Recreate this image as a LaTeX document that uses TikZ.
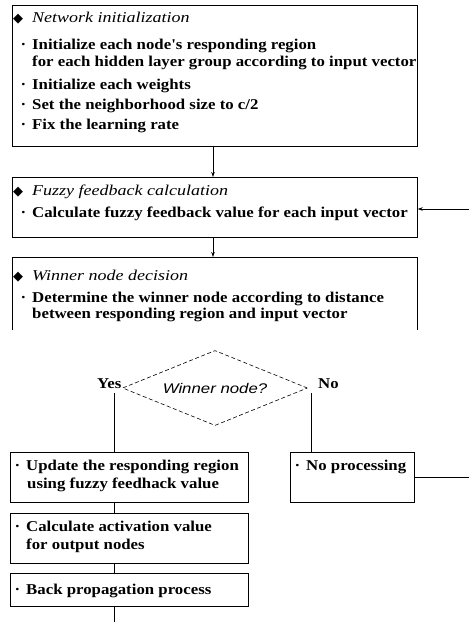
\documentclass[tikz,border=0pt]{standalone}
\usepackage{fontspec}
\setmainfont{Liberation Serif}
\newfontfamily\bodyfont[FakeStretch=1.12]{Liberation Serif Bold}
\newfontfamily\headfont[FakeStretch=1.2]{Liberation Serif Italic}
\newfontfamily\symfont{DejaVu Sans}
\newfontfamily\qfont[FakeStretch=1.2]{Liberation Sans Italic}
\usetikzlibrary{arrows.meta,shapes.geometric}

\newcommand{\dmd}{{\symfont\fontsize{13}{13}\selectfont ◆}}
\newcommand{\bul}{\makebox[0pt][r]{·\hspace{6pt}}}

\begin{document}
\begin{tikzpicture}[x=1pt,y=-1pt,
  box/.style={draw, line width=0.7pt, anchor=north west, inner sep=0pt},
  txt/.style={anchor=base west, inner sep=0pt, font=\bodyfont\fontsize{15}{16}\selectfont},
  ttl/.style={anchor=base west, inner sep=0pt, font=\headfont\fontsize{15}{16}\selectfont},
  glyph/.style={anchor=base west, inner sep=0pt},
  link/.style={line width=0.7pt},
  arr/.style={line width=0.7pt, -{Stealth[length=5pt,width=3.5pt]}},
  decision/.style={diamond, draw, dash pattern=on 4pt off 2.5pt, line width=0.6pt, aspect=2.5, inner sep=0pt,
    minimum width=185, minimum height=75, font=\qfont\fontsize{14}{14}\selectfont}
]
\useasboundingbox (0,0) rectangle (469,622);

% --- Network initialization
\node[box, minimum width=405, minimum height=141] (b1) at (12,5) {};
\node[glyph] (b1m) at (13,22) {\dmd};
\node[ttl] (b1t) at (32,22) {Network initialization};
\node[txt] (b1a) at (32,49) {\bul Initialize each node's responding region};
\node[txt] (b1b) at (32,66) {for each hidden layer group according to input vector};
\node[txt] (b1c) at (32,89) {\bul Initialize each weights};
\node[txt] (b1d) at (32,109) {\bul Set the neighborhood size to c/2};
\node[txt] (b1e) at (32,129) {\bul Fix the learning rate};

% --- Fuzzy feedback calculation
\node[box, minimum width=405, minimum height=60] (b2) at (12,177) {};
\node[glyph] (b2m) at (13,195) {\dmd};
\node[ttl] (b2t) at (32,195) {Fuzzy feedback calculation};
\node[txt] (b2a) at (32,217) {\bul Calculate fuzzy feedback value for each input vector};

% --- Winner node decision (lower edge not drawn)
\node[anchor=north west, inner sep=0pt, minimum width=405, minimum height=73] (b3) at (12,257) {};
\draw[link] (b3.south west) -- (b3.north west) -- (b3.north east) -- (b3.south east);
\node[glyph] (b3m) at (13,280) {\dmd};
\node[ttl] (b3t) at (32,280) {Winner node decision};
\node[txt] (b3a) at (32,302) {\bul Determine the winner node according to distance};
\node[txt] (b3b) at (32,318) {between responding region and input vector};

% --- decision
\node[decision] (dec) at (215,388) {Winner node?};
\node[txt] (yes) at (97,388) {Yes};
\node[txt] (no) at (318,388) {No};
\coordinate (yesfoot) at (114,393);
\coordinate (nofoot) at (311,393);

% --- lower boxes
\node[box, minimum width=238, minimum height=50] (b4) at (10,452) {};
\node[txt] (b4a) at (26,470) {\bul Update the responding region};
\node[txt] (b4b) at (27,488) {using fuzzy feedhack value};

\node[box, minimum width=124, minimum height=50] (b5) at (290,452) {};
\node[txt] (b5a) at (306,470) {\bul No processing};

\node[box, minimum width=238, minimum height=50] (b6) at (10,513) {};
\node[txt] (b6a) at (26,531) {\bul Calculate activation value};
\node[txt] (b6b) at (26,549) {for output nodes};

\node[box, minimum width=238, minimum height=33] (b7) at (10,573) {};
\node[txt] (b7a) at (26,594) {\bul Back propagation process};

\coordinate (loopin) at (469,209);
\coordinate (loopout) at (469,477);
\coordinate (tail) at (114,622);

% --- connectors
\draw[arr] (b1.south -| 213,0) -- (b2.north -| 213,0);
\draw[arr] (b2.south -| 213,0) -- (b3.north -| 213,0);
\draw[arr] (loopin) -- (loopin -| b2.east);
\draw[link] (yesfoot) -- (yesfoot |- b4.north);
\draw[link] (nofoot) -- (nofoot |- b5.north);
\draw[link] (b5.east |- loopout) -- (loopout);
\draw[link] (b4.south -| tail) -- (b6.north -| tail);
\draw[link] (b6.south -| tail) -- (b7.north -| tail);
\draw[link] (b7.south -| tail) -- (tail);
\end{tikzpicture}
\end{document}
